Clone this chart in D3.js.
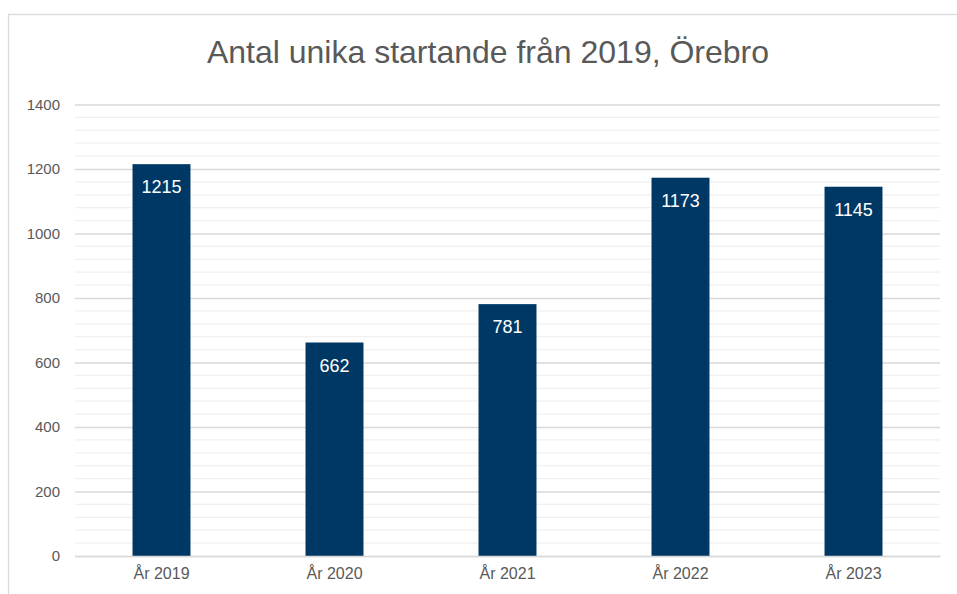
<!DOCTYPE html>
<html>
<head>
<meta charset="utf-8">
<script src="https://cdn.jsdelivr.net/npm/d3@7"></script>
<style>
  body { margin: 0; background: #fff; }
  svg { font-family: "Liberation Sans", Arial, sans-serif; }
</style>
</head>
<body>
<svg id="chart" width="957" height="594"></svg>
<script>
// data
var years = ["År 2019", "År 2020", "År 2021", "År 2022", "År 2023"];
var starters = [1215, 662, 781, 1173, 1145];
var yTicks = [0, 200, 400, 600, 800, 1000, 1200, 1400];
var title = "Antal unika startande från 2019, Örebro";

var margin = {top: 104.5, right: 17, bottom: 38, left: 75},
    width = 957 - margin.left - margin.right,
    height = 594 - margin.top - margin.bottom;

var svg = d3.select("#chart");

// chart frame (runs off the right and bottom edge like the original)
svg.append("rect")
    .attr("x", 8.5).attr("y", 14.5)
    .attr("width", 1000).attr("height", 1000)
    .attr("fill", "none")
    .attr("stroke", "#d9d9d9")
    .attr("stroke-width", 1.3);

svg.append("text")
    .attr("x", 488).attr("y", 63)
    .attr("text-anchor", "middle")
    .style("font-size", "32px")
    .style("fill", "#595959")
    .text(title);

var g = svg.append("g")
    .attr("transform", "translate(" + margin.left + "," + margin.top + ")");

var x = d3.scaleBand()
    .range([0, width])
    .domain(years)
    .paddingInner(0.665)
    .paddingOuter(0.3325);

var y = d3.scaleLinear()
    .range([height, 0])
    .domain([0, 1400]);

// minor gridlines every 40
g.append("g")
    .selectAll("line")
    .data(d3.range(0, 1400, 40).filter(function(v) { return v % 200 != 0; }))
    .enter().append("line")
    .attr("x1", 0).attr("x2", width)
    .attr("y1", function(d) { return y(d); })
    .attr("y2", function(d) { return y(d); })
    .attr("stroke", "#f0f0f0")
    .attr("stroke-width", 1.3);

// major gridlines + y labels
var yAxis = g.append("g")
    .call(d3.axisLeft(y).tickValues(yTicks).tickFormat(d3.format("d")).tickSize(-width).tickPadding(15));
yAxis.select(".domain").remove();
yAxis.selectAll(".tick line").attr("stroke", "#d9d9d9").attr("stroke-width", 1.3);
yAxis.selectAll(".tick text")
    .style("font-size", "15px")
    .style("fill", "#595959")
    .style("font-family", "Liberation Sans, Arial, sans-serif");

// bars
g.selectAll(".bar")
    .data(starters)
    .enter().append("rect")
    .attr("class", "bar")
    .attr("x", function(d, i) { return x(years[i]); })
    .attr("y", function(d) { return y(d); })
    .attr("width", x.bandwidth())
    .attr("height", function(d) { return height - y(d); })
    .attr("fill", "#003865");

// value labels inside end
g.selectAll(".lbl")
    .data(starters)
    .enter().append("text")
    .attr("class", "lbl")
    .attr("x", function(d, i) { return x(years[i]) + x.bandwidth() / 2; })
    .attr("y", function(d) { return y(d) + 29; })
    .attr("text-anchor", "middle")
    .style("font-size", "18px")
    .style("fill", "#fff")
    .text(function(d) { return d; });

// x axis
var xAxis = g.append("g")
    .attr("transform", "translate(0," + height + ")")
    .call(d3.axisBottom(x).tickSize(0).tickPadding(12));
xAxis.select(".domain").attr("stroke", "#d9d9d9").attr("stroke-width", 1.3);
xAxis.selectAll(".tick text")
    .style("font-size", "16px")
    .style("fill", "#595959")
    .style("font-family", "Liberation Sans, Arial, sans-serif");
</script>
</body>
</html>
